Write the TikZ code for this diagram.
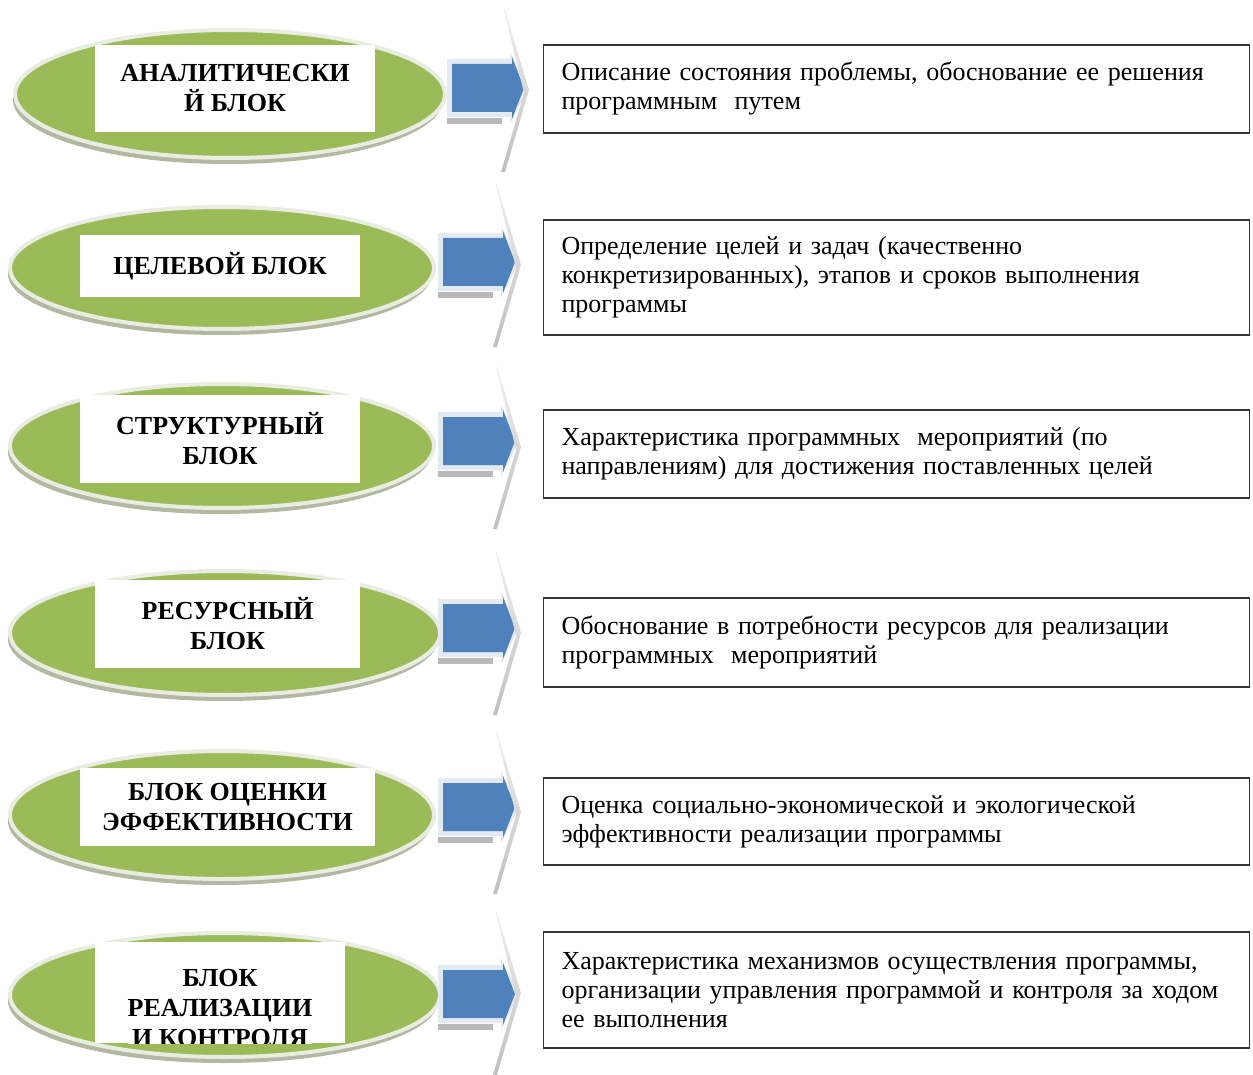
\documentclass[tikz,border=0pt]{standalone}
\usepackage{fontspec}
\setmainfont{Liberation Serif}
\usetikzlibrary{shapes.geometric,shadows}
\definecolor{blkgreen}{HTML}{9BBB59}
\definecolor{rimlight}{HTML}{E9EDE1}
\definecolor{rimgray}{HTML}{B3B8A2}
\definecolor{arrblue}{HTML}{4F81BD}
\definecolor{arrbevel}{HTML}{E4EAF2}

\begin{document}
\begin{tikzpicture}[x=0.5pt,y=-0.5pt]
\tikzstyle{blk}=[ellipse,fill=blkgreen,draw=rimlight,line width=2pt,drop shadow={shadow xshift=-1pt,shadow yshift=-3pt,fill=rimgray,opacity=1}]
\tikzstyle{lab}=[rectangle,fill=white,align=center,inner sep=0pt,font=\fontsize{13}{15}\selectfont\bfseries]
\tikzstyle{desc}=[rectangle,draw=black!80,line width=0.8pt,align=left,text width=335pt,inner xsep=9pt,font=\fontsize{13}{14.5}\selectfont]
\useasboundingbox (0,0) rectangle (1253,1075);

\node (e1) at (230,94) [blk,minimum width=215pt,minimum height=64pt]{};
\node (e2) at (222,268) [blk,minimum width=212pt,minimum height=61pt]{};
\node (e3) at (222,446) [blk,minimum width=212pt,minimum height=62pt]{};
\node (e4) at (225,633) [blk,minimum width=215pt,minimum height=62pt]{};
\node (e5) at (222,815) [blk,minimum width=212pt,minimum height=64pt]{};
\node (e6) at (225,995) [blk,minimum width=215pt,minimum height=62pt]{};

\node (l1) at (235,88.5) [lab,minimum width=140pt,minimum height=43.5pt]{АНАЛИТИЧЕСКИ\\Й БЛОК};
\node (l2) at (220,266) [lab,minimum width=140pt,minimum height=31pt]{ЦЕЛЕВОЙ БЛОК};
\node (l3) at (220,439) [lab,minimum width=140pt,minimum height=44pt]{СТРУКТУРНЫЙ\\БЛОК};
\node (l4) at (227.5,624) [lab,minimum width=132.5pt,minimum height=44pt]{РЕСУРСНЫЙ\\БЛОК};
\node (l5) at (227.5,807) [lab,minimum width=147.5pt,minimum height=39pt]{БЛОК ОЦЕНКИ\\ЭФФЕКТИВНОСТИ};
\node (l6) at (220,992.5) [lab,minimum width=125pt,minimum height=50.5pt]{};
\begin{scope}
\clip (l6.north west) rectangle (l6.south east);
\node (t6) at (220,1008) [lab]{БЛОК\\РЕАЛИЗАЦИИ\\И КОНТРОЛЯ};
\end{scope}

% blue arrows
\foreach \x/\c in {452/88,443/262,443/441,443/628,443/807,443/994}{
\fill[arrbevel] (\x-5,\c-29) -- (\x+58,\c-29) -- (\x+58,\c-36) -- (\x+76,\c) -- (\x+58,\c+36) -- (\x+58,\c+29) -- (\x-5,\c+29) -- cycle;
\fill[gray!55] (\x-5,\c+30) rectangle (\x+50,\c+36);
\fill[arrblue] (\x,\c-24) -- (\x+60,\c-24) -- (\x+60,\c-31) -- (\x+72,\c) -- (\x+60,\c+31) -- (\x+60,\c+24) -- (\x,\c+24) -- cycle;
}
% chevrons
\foreach \x/\c in {505/90,497/265,497/447,497/633,497/812,497/993}{
\shade[top color=gray!12,bottom color=gray!50] (\x,\c-80) -- (\x+24,\c) -- (\x,\c+82) -- (\x-4,\c+82) -- (\x+19,\c+3) -- (\x-1,\c-80) -- cycle;
}

\node (d1) at (896.5,89) [desc,minimum height=44pt]{Описание состояния проблемы, обоснование ее решения\\программным\ \ путем};
\node (d2) at (896.5,277.5) [desc,minimum height=57.5pt]{Определение целей и задач (качественно\\конкретизированных), этапов и сроков выполнения\\программы};
\node (d3) at (896.5,454) [desc,minimum height=44pt]{Характеристика программных\ \ мероприятий (по\\направлениям) для достижения поставленных целей};
\node (d4) at (896.5,642.5) [desc,minimum height=44.5pt]{Обоснование в потребности ресурсов для реализации\\программных\ \ мероприятий};
\node (d5) at (896.5,821.5) [desc,minimum height=43.5pt]{Оценка социально-экономической и экологической\\эффективности реализации программы};
\node (d6) at (896.5,990) [desc,minimum height=58pt]{Характеристика механизмов осуществления программы,\\организации управления программой и контроля за ходом\\ее выполнения};
\end{tikzpicture}
\end{document}
